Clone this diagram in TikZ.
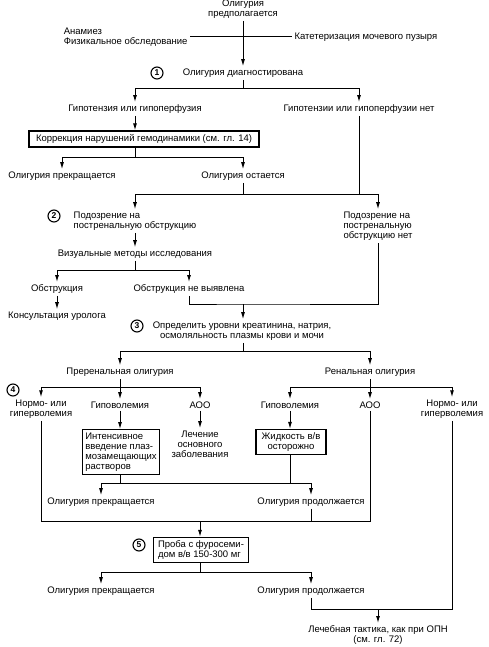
\documentclass[tikz,border=0pt]{standalone}
\usepackage{fontspec}
\setmainfont{Liberation Sans}
\usetikzlibrary{arrows.meta}

\begin{document}
\begin{tikzpicture}[x=1pt,y=-1pt,line width=1pt,
                every node/.style={inner sep=2pt, font=\fontsize{9.5}{10}\selectfont},
                box/.style={draw, line width=1.3pt, inner sep=3pt},
                num/.style={circle, draw, line width=1.1pt, inner sep=0pt, minimum size=12, font=\bfseries\fontsize{8.5}{8.5}\selectfont},
                >={Latex[length=7pt,width=4pt]}]
                \useasboundingbox (0,0) rectangle (488,647);
                \node (top) [align=center] at (243,9) {Олигурия\\предполагается};
                \node (anam) [align=left, anchor=east] at (190,37) {Анамиез\\Физикальное обследование};
                \node (kat) [anchor=west] at (292,37) {Катетеризация мочевого пузыря};
                \node[num] (n1) at (157,73) {1};
                \node (diag) at (243,73) {Олигурия диагностирована};
                \node (hypo) at (135,109) {Гипотензия или гипоперфузия};
                \node (nohypo) at (359,109) {Гипотензии или гипоперфузии нет};
                \node[box, minimum width=230, minimum height=16] (corr) at (144,139) {Коррекция нарушений гемодинамики (см. гл. 14)};
                \node (stop1) at (62,176) {Олигурия прекращается};
                \node (stays) at (243,176) {Олигурия остается};
                \node[num] (n2) at (54,216) {2};
                \node (susp) [align=left] at (135,221) {Подозрение на\\постренальную обструкцию};
                \node (nosusp) [align=left] at (378,226) {Подозрение на\\постренальную\\обструкцию нет};
                \node (visual) at (135,254) {Визуальные методы исследования};
                \node (obstr) at (57,289) {Обструкция};
                \node (noobstr) at (189,289) {Обструкция не выявлена};
                \node (urolog) at (57,316) {Консультация уролога};
                \node[num] (n3) at (137,326) {3};
                \node (labs) [align=center] at (242,331) {Определить уровни креатинина, натрия,\\осмоляльность плазмы крови и мочи};
                \node (prer) at (120,372) {Преренальная олигурия};
                \node (ren) at (370,372) {Ренальная олигурия};
                \node[num] (n4) at (13,390) {4};
                \node (normoA) [align=center] at (41,409) {Нормо- или\\гиперволемия};
                \node (hypovA) at (120,405) {Гиповолемия};
                \node (aooA) at (200,405) {АОО};
                \node (hypovB) at (290,405) {Гиповолемия};
                \node (aooB) at (370,405) {АОО};
                \node (normoB) [align=center] at (452,409) {Нормо- или\\гиперволемия};
                \node[box, align=left, minimum width=76, minimum height=41] (intens) at (121,452) {Интенсивное\\введение плаз-\\мозамещающих\\растворов};
                \node (treat) [align=center] at (200,444) {Лечение\\основного\\заболевания};
                \node[box, align=center, minimum width=70, minimum height=23] (fluid) at (291,442) {Жидкость в/в\\осторожно};
                \node (stop2) at (101,502) {Олигурия прекращается};
                \node (cont2) at (311,502) {Олигурия продолжается};
                \node[num] (n5) at (139,545) {5};
                \node[box, align=left, minimum width=95, minimum height=25] (furo) at (201,550) {Проба с фуросеми-\\дом в/в 150-300 мг};
                \node (stop3) at (101,591) {Олигурия прекращается};
                \node (cont3) at (311,591) {Олигурия продолжается};
                \node (final) [align=center] at (378,635) {Лечебная тактика, как при ОПН\\(см. гл. 72)};
                % junctions
                \coordinate (j1) at (243,89);
                \coordinate (j2) at (135,158);
                \coordinate (j3) at (243,194);
                \coordinate (j4) at (135,270);
                \coordinate (j5) at (243,304);
                \coordinate (j6) at (243,351);
                \coordinate (j7) at (120,387);
                \coordinate (j8) at (370,387);
                \coordinate (j9) at (205,483);
                \coordinate (j10) at (200,521);
                \coordinate (j11) at (200,572);
                \coordinate (j12) at (378,609);
                \draw[->] (top) -- (diag);
                \draw (anam) -- (kat);
                \draw (diag) -- (j1);
                \draw[->] (j1) -| (hypo);
                \draw[->] (j1) -| (nohypo);
                \draw[->] (hypo) -- (hypo |- corr.north);
                \draw (corr.south -| j2) -- (j2);
                \draw[->] (j2) -| (stop1);
                \draw[->] (j2) -| (stays);
                \draw (stays) -- (j3);
                \draw (nohypo) |- (j3);
                \draw[->] (j3) -| (susp);
                \draw[->] (j3) -| (nosusp);
                \draw[->] (susp) -- (visual);
                \draw (visual) -- (j4);
                \draw[->] (j4) -| (obstr);
                \draw[->] (j4) -| (noobstr);
                \draw[->] (obstr) -- (urolog);
                \draw (noobstr) |- (j5) -| (nosusp);
                \draw[->] (j5) -- (j5 |- labs.north);
                \draw (labs.south -| j6) -- (j6);
                \draw[->] (j6) -| (prer);
                \draw[->] (j6) -| (ren);
                \draw (prer) -- (j7);
                \draw[->] (j7) -| (normoA);
                \draw[->] (j7) -- (hypovA);
                \draw[->] (j7) -| (aooA);
                \draw (ren) -- (j8);
                \draw[->] (j8) -| (hypovB);
                \draw[->] (j8) -- (aooB);
                \draw[->] (j8) -| (normoB);
                \draw[->] (hypovA) -- (hypovA |- intens.north);
                \draw[->] (aooA) -- (treat);
                \draw[->] (hypovB) -- (hypovB |- fluid.north);
                \draw (intens.south -| hypovA) |- (j9);
                \draw (fluid.south -| hypovB) |- (j9);
                \draw[->] (j9) -| (stop2);
                \draw[->] (j9) -| (cont2);
                \draw (normoA) |- (j10);
                \draw (aooB) |- (j10);
                \draw (cont2) -- (cont2 |- j10);
                \draw[->] (j10) -- (j10 |- furo.north);
                \draw (furo.south -| j11) -- (j11);
                \draw[->] (j11) -| (stop3);
                \draw[->] (j11) -| (cont3);
                \draw (cont3) |- (j12);
                \draw (normoB) |- (j12);
                \draw[->] (j12) -- (final);
            \end{tikzpicture}
\end{document}
